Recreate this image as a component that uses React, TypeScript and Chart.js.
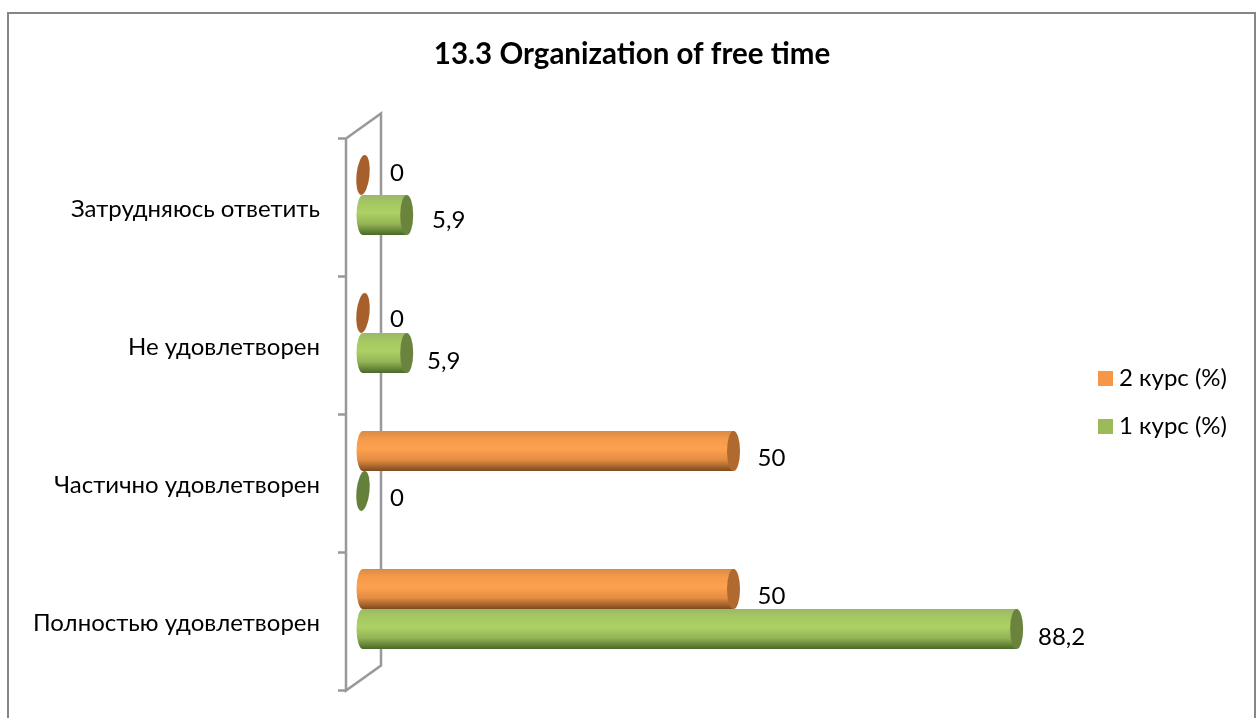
import React, { useEffect, useRef } from "react";
import { Chart, registerables } from "chart.js";

Chart.register(...registerables);

const titleText = "13.3 Organization of free time";
const categories = ["Затрудняюсь ответить", "Не удовлетворен", "Частично удовлетворен", "Полностью удовлетворен"];
const course2Values = [0, 0, 50, 50];
const course1Values = [5.9, 5.9, 0, 88.2];
const course2Label = "2 курс (%)";
const course1Label = "1 курс (%)";

const FONT = "Lato, 'Open Sans', sans-serif";
const LABEL_NUDGE = [
  [[34, -2], [34, 6], [38, 7], [38, 7]],
  [[42, 5], [37, 8], [34, 7], [45, 8]],
];
const PALETTE = [
  { flat: "#f79646", edge: "#d98a45", soft: "#f59a4b", light: "#fda14f", mid: "#e58c42", dark: "#7d4a20", cap: "#b0692f", zero: "#a7602b" },
  { flat: "#9bbb59", edge: "#9ab868", soft: "#a5c861", light: "#acd166", mid: "#94b455", dark: "#4a6829", cap: "#6a843d", zero: "#64803a" },
];
const CAP_RX = 6.5;
const BAR_H = 40;

function swatch(color: string) {
  const s = document.createElement("canvas");
  s.width = 15;
  s.height = 15;
  const c = s.getContext("2d")!;
  c.fillStyle = color;
  c.fillRect(0, 0, 15, 15);
  return s;
}

function cylinderGradient(c: CanvasRenderingContext2D, y: number, i: number) {
  const p = PALETTE[i];
  const top = y - BAR_H / 2;
  const g = c.createLinearGradient(0, top, 0, top + BAR_H);
  g.addColorStop(0, p.edge);
  g.addColorStop(0.2, p.soft);
  g.addColorStop(0.45, p.light);
  g.addColorStop(0.72, p.mid);
  g.addColorStop(1, p.dark);
  return g;
}

const decor = {
  id: "decor",
  beforeDraw(chart: any) {
    const c = chart.ctx;
    c.save();
    c.strokeStyle = "#868686";
    c.lineWidth = 2;
    c.beginPath();
    c.moveTo(8, 718);
    c.lineTo(8, 13);
    c.lineTo(1255, 13);
    c.lineTo(1255, 718);
    c.stroke();
    c.restore();
  },
  beforeDatasetsDraw(chart: any) {
    const c = chart.ctx;
    const { y, x } = chart.scales;
    const x0 = x.getPixelForValue(0);
    const front = x0 - 17;
    const back = x0 + 18;
    const band = (y.bottom - y.top) / categories.length;
    const yTop = y.top + 12.5;
    const yBottom = y.bottom + 12.5;
    c.save();
    c.strokeStyle = "#999999";
    c.lineWidth = 2.5;
    c.beginPath();
    c.moveTo(front, yTop);
    c.lineTo(back, yTop - 25);
    c.lineTo(back, yBottom - 25);
    c.lineTo(front, yBottom);
    c.closePath();
    for (let i = 0; i <= categories.length; i++) {
      const ty = yTop + i * band;
      c.moveTo(front - 8, ty);
      c.lineTo(front, ty);
    }
    c.stroke();
    c.restore();
    // left rounded ends of the cylinders
    chart.data.datasets.forEach((d: any, i: number) => {
      chart.getDatasetMeta(i).data.forEach((el: any, j: number) => {
        if (d.data[j] > 0) {
          c.save();
          c.fillStyle = cylinderGradient(c, el.y, i);
          c.beginPath();
          c.ellipse(x0, el.y, CAP_RX, BAR_H / 2, 0, 0, Math.PI * 2);
          c.fill();
          c.restore();
        }
      });
    });
  },
  afterDatasetsDraw(chart: any) {
    const c = chart.ctx;
    chart.data.datasets.forEach((d: any, i: number) => {
      chart.getDatasetMeta(i).data.forEach((el: any, j: number) => {
        const v = d.data[j];
        c.save();
        c.fillStyle = v > 0 ? PALETTE[i].cap : PALETTE[i].zero;
        c.beginPath();
        c.ellipse(el.x, el.y, CAP_RX, BAR_H / 2, v > 0 ? 0 : 0.1, 0, Math.PI * 2);
        c.fill();
        const [dx, dy] = LABEL_NUDGE[i][j];
        c.fillStyle = "#000";
        c.font = `24px ${FONT}`;
        c.textAlign = "center";
        c.textBaseline = "middle";
        c.fillText(String(v).replace(".", ","), el.x + dx, el.y + dy);
        c.restore();
      });
    });
  },
};

export default function App() {
  const ref = useRef<HTMLCanvasElement>(null);
  useEffect(() => {
    document.body.style.margin = "0";
    document.body.style.background = "#fff";
    const bg = (i: number) => (ctx: any) => {
      if (ctx.dataIndex === undefined || !ctx.chart.scales.y) return PALETTE[i].flat;
      const s = ctx.chart.scales.y;
      const y = s.getPixelForValue(ctx.dataIndex) + (i === 0 ? -BAR_H / 2 : BAR_H / 2);
      return cylinderGradient(ctx.chart.ctx, y, i);
    };
    const chart = new Chart(ref.current!, {
      type: "bar",
      data: {
        labels: categories,
        datasets: [
          { label: course2Label, data: course2Values, backgroundColor: bg(0) },
          { label: course1Label, data: course1Values, backgroundColor: bg(1) },
        ],
      },
      plugins: [decor],
      options: {
        indexAxis: "y",
        animation: false,
        responsive: false,
        layout: { autoPadding: false, padding: { left: 27, right: 19, top: 0, bottom: 40 } },
        datasets: { bar: { categoryPercentage: 80 / 138, barPercentage: 1 } },
        scales: {
          x: { display: false, min: 0, max: 96.76, ticks: { display: false } },
          y: {
            grid: { display: false, drawTicks: false },
            border: { display: false },
            afterFit: (s: any) => { s.width = 336; s.paddingTop = 0; s.paddingBottom = 0; },
            ticks: { padding: 43, labelOffset: 14, color: "#000", font: { family: FONT, size: 24 } },
          },
        },
        plugins: {
          tooltip: { enabled: false },
          title: {
            display: true,
            text: titleText,
            color: "#000",
            font: { family: FONT, size: 29.5, weight: "bold" },
            padding: { top: 37, bottom: 53.6 },
          },
          legend: {
            position: "right",
            fullSize: false,
            labels: {
              color: "#000",
              font: { family: FONT, size: 24 },
              boxWidth: 15,
              boxHeight: 15,
              padding: 24,
              usePointStyle: true,
              pointStyleWidth: 3,
              generateLabels: (ch: any) => ch.data.datasets.map((d: any, i: number) => ({
                text: d.label,
                fillStyle: PALETTE[i].flat,
                strokeStyle: PALETTE[i].flat,
                lineWidth: 0,
                pointStyle: swatch(PALETTE[i].flat),
                datasetIndex: i,
                fontColor: "#000",
              })),
            },
          },
        },
      },
    } as any);
    return () => chart.destroy();
  }, []);
  return <canvas ref={ref} width={1256} height={718} style={{ display: "block" }} />;
}
